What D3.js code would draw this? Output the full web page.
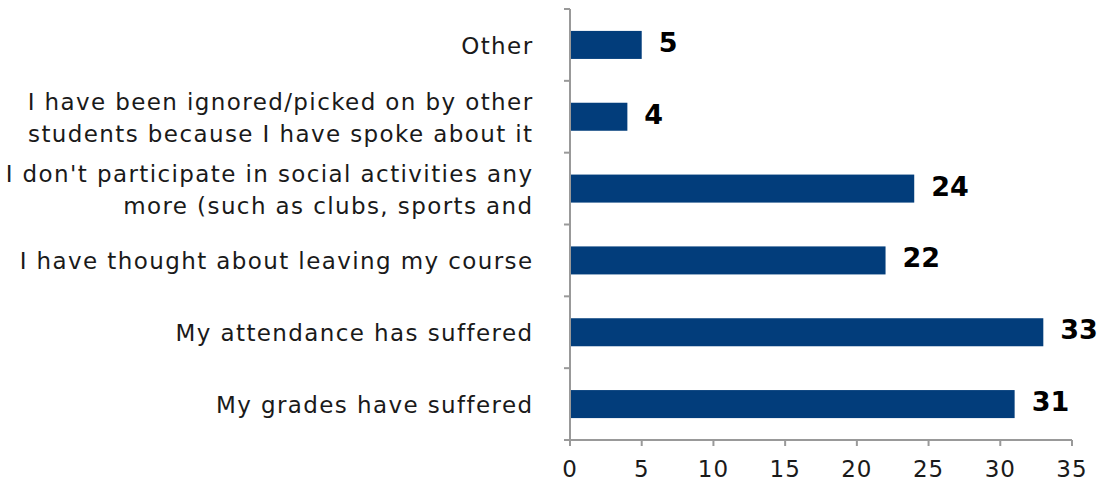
<!DOCTYPE html>
<html><head><meta charset="utf-8">
<script src="https://cdn.jsdelivr.net/npm/d3@7"></script>
<style>body{margin:0;background:#fff}svg{display:block}text{font-family:"DejaVu Sans",sans-serif}</style>
</head><body>
<svg id="c" width="1107" height="487"></svg>
<script>
const categories = [
  ["Other"],
  ["I have been ignored/picked on by other", "students because I have spoke about it"],
  ["I don't participate in social activities any", "more (such as clubs, sports and"],
  ["I have thought about leaving my course"],
  ["My attendance has suffered"],
  ["My grades have suffered"]
];
const values = [5, 4, 24, 22, 33, 31];
const xTicks = [0, 5, 10, 15, 20, 25, 30, 35];

(function () {
const svg = d3.select("#c");
const mL = 570, mR = 1072, mT = 9, mB = 440;
const x = d3.scaleLinear().domain([0, 35]).range([mL, mR]);
const y = d3.scaleBand().domain(d3.range(categories.length)).range([mT, mB]).paddingInner(0.61).paddingOuter(0.305);
const yb = d3.scaleBand().domain(d3.range(categories.length)).range([mT, mB]);
const axisColor = "#999";

svg.selectAll("rect.bar").data(values).join("rect")
  .attr("x", x(0)).attr("y", (d,i) => y(i))
  .attr("width", d => x(d) - x(0)).attr("height", y.bandwidth())
  .attr("fill", "#023d7b");

svg.append("line").attr("x1", mL).attr("x2", mL).attr("y1", mT).attr("y2", mB)
  .attr("stroke", axisColor).attr("stroke-width", 2);
const bounds = d3.range(categories.length + 1).map(i => i < categories.length ? yb(i) : mB);
svg.selectAll("line.yt").data(bounds).join("line")
  .attr("x1", mL - 6).attr("x2", mL).attr("y1", d => d).attr("y2", d => d)
  .attr("stroke", axisColor).attr("stroke-width", 2);

svg.append("line").attr("x1", mL - 6).attr("x2", mR).attr("y1", mB).attr("y2", mB)
  .attr("stroke", axisColor).attr("stroke-width", 2);
svg.selectAll("line.xt").data(xTicks).join("line")
  .attr("x1", d => x(d)).attr("x2", d => x(d)).attr("y1", mB).attr("y2", mB + 6)
  .attr("stroke", axisColor).attr("stroke-width", 2);
svg.selectAll("text.xl").data(xTicks).join("text")
  .attr("x", d => x(d)).attr("y", 477).attr("text-anchor", "middle")
  .attr("font-size", 23).attr("letter-spacing", 1).attr("fill", "#1a1a1a").text(d => d);

const lh = 32;
categories.forEach((lines, i) => {
  const cy = y(i) + y.bandwidth() / 2;
  const t = svg.append("text").attr("text-anchor", "end").attr("font-size", 23)
    .attr("letter-spacing", 1.4).attr("fill", "#1a1a1a");
  lines.forEach((ln, j) => {
    t.append("tspan").attr("x", 533.5)
      .attr("y", cy + (j - (lines.length - 1) / 2) * lh + 9).text(ln);
  });
});

svg.selectAll("text.vl").data(values).join("text")
  .attr("x", d => x(d) + 17).attr("y", (d,i) => y(i) + y.bandwidth() / 2 + 7)
  .attr("font-size", 27).attr("font-weight", "bold").attr("fill", "#000").text(d => d);
})();
</script>
</body></html>
